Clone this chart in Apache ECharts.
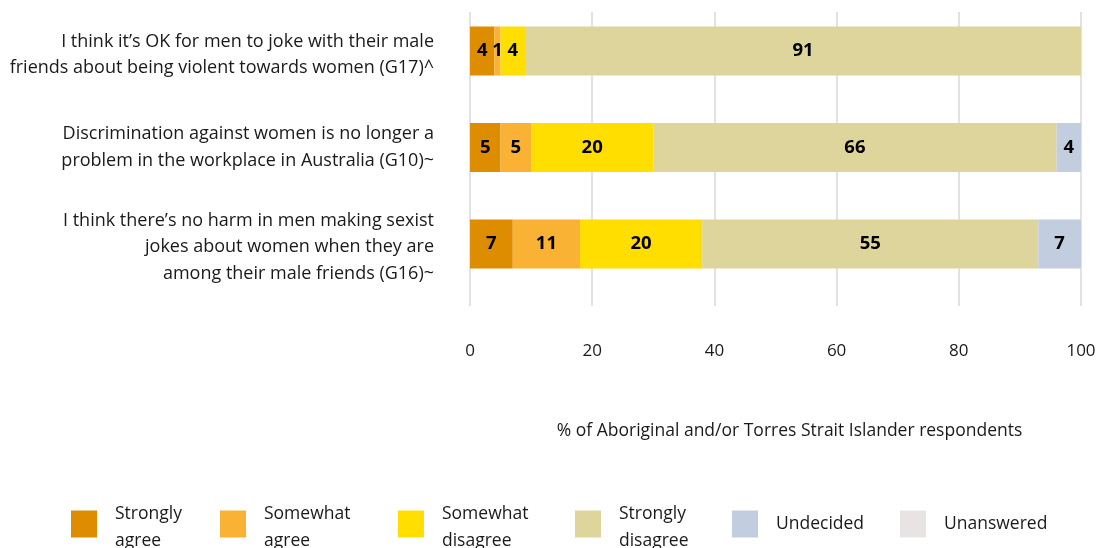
<!DOCTYPE html>
<html>
<head>
<meta charset="utf-8">
<script src="https://cdn.jsdelivr.net/npm/echarts@6/dist/echarts.min.js"></script>
<style>
  html, body { margin: 0; padding: 0; background: #fff; }
  #chart { width: 1100px; height: 548px; }
</style>
</head>
<body>
<div id="chart"></div>
<script>
// Statements, top to bottom
const statements = [
  "I think it\u2019s OK for men to joke with their male\nfriends about being violent towards women (G17)^",
  "Discrimination against women is no longer a\nproblem in the workplace in Australia (G10)~",
  "I think there\u2019s no harm in men making sexist\njokes about women when they are\namong their male friends (G16)~"
];

// Response shares (%), one array per response option, in statement order
const stronglyAgree     = [4, 5, 7];
const somewhatAgree     = [1, 5, 11];
const somewhatDisagree  = [4, 20, 20];
const stronglyDisagree  = [91, 66, 55];
const undecided         = [0, 4, 7];
const unanswered        = [0, 0, 0];

const responseNames = ["Strongly agree", "Somewhat agree", "Somewhat disagree", "Strongly disagree", "Undecided", "Unanswered"];
const legendLabels  = ["Strongly\nagree", "Somewhat\nagree", "Somewhat\ndisagree", "Strongly\ndisagree", "Undecided", "Unanswered"];
const responseData  = [stronglyAgree, somewhatAgree, somewhatDisagree, stronglyDisagree, undecided, unanswered];
const colors = ["#DE8C00", "#F9B233", "#FFDE00", "#DDD59C", "#C2CEDF", "#E8E4E4"];

const xTicks = [0, 20, 40, 60, 80, 100];
const axisTitle = "% of Aboriginal and/or Torres Strait Islander respondents";

const FONT = "Open Sans";
const TEXT = "#1a1a1a";
const legendLeft = [71, 220, 398, 575, 732, 900];
// thin spacer line above each statement label (rich style name), to sit it a touch lower
const labelSpacer = ["{s8| }\n", "", "{s6| }\n"];

const chart = echarts.init(document.getElementById("chart"), null, { renderer: "canvas" });

const xBase = {
  type: "value",
  min: xTicks[0],
  max: xTicks[xTicks.length - 1],
  interval: 20,
  axisLine: { show: false },
  axisTick: { show: false }
};

chart.setOption({
  animation: false,
  textStyle: { fontFamily: FONT },
  color: colors,
  grid: [
    // gridline / tick-label frame
    { left: 470, right: 19, top: 12, bottom: 242 },
    // bar frame
    { left: 470, right: 19, top: 2.75, height: 289.5 }
  ],
  xAxis: [
    Object.assign({}, xBase, {
      gridIndex: 0,
      splitLine: { lineStyle: { color: "#D9D9D9", width: 1.5 } },
      axisLabel: { margin: 37, fontSize: 17, color: TEXT, fontFamily: FONT },
      name: axisTitle,
      nameLocation: "middle",
      nameGap: 116,
      nameTextStyle: { fontSize: 17.5, color: TEXT, fontFamily: FONT, padding: [0, 0, 0, 28] }
    }),
    Object.assign({}, xBase, {
      gridIndex: 1,
      splitLine: { show: false },
      axisLabel: { show: false }
    })
  ],
  yAxis: [
    {
      gridIndex: 0,
      type: "value",
      show: false
    },
    {
      gridIndex: 1,
      type: "category",
      inverse: true,
      data: statements,
      axisLine: { show: false },
      axisTick: { show: false },
      axisLabel: {
        margin: 36,
        fontSize: 18,
        lineHeight: 26.5,
        color: TEXT,
        align: "right",
        fontFamily: FONT,
        formatter: (val, idx) => labelSpacer[idx] + val,
        rich: {
          s8: { fontSize: 1, lineHeight: 8 },
          s6: { fontSize: 1, lineHeight: 6 }
        }
      }
    }
  ],
  legend: legendLabels.map((lab, i) => {
    const twoLine = lab.indexOf("\n") >= 0;
    return {
      data: [responseNames[i]],
      left: legendLeft[i],
      top: twoLine ? 493 : 510.5,
      padding: 0,
      itemWidth: 26,
      itemHeight: 27,
      icon: "rect",
      selectedMode: false,
      formatter: () => (twoLine ? "{s| }\n" + lab : lab),
      textStyle: {
        fontSize: 17.5,
        lineHeight: 27,
        color: TEXT,
        fontFamily: FONT,
        padding: [0, 0, 0, 13],
        rich: { s: { fontSize: 1, lineHeight: 8 } }
      }
    };
  }),
  series: responseNames.map((name, i) => ({
    name: name,
    type: "bar",
    xAxisIndex: 1,
    yAxisIndex: 1,
    stack: "total",
    barWidth: 49,
    data: responseData[i],
    itemStyle: { color: colors[i] },
    emphasis: { disabled: true },
    label: {
      show: true,
      position: "inside",
      color: "#000",
      fontSize: 18.5,
      fontWeight: "bold",
      fontFamily: FONT,
      formatter: p => (p.value > 0 ? String(p.value) : "")
    }
  }))
});
</script>
</body>
</html>
